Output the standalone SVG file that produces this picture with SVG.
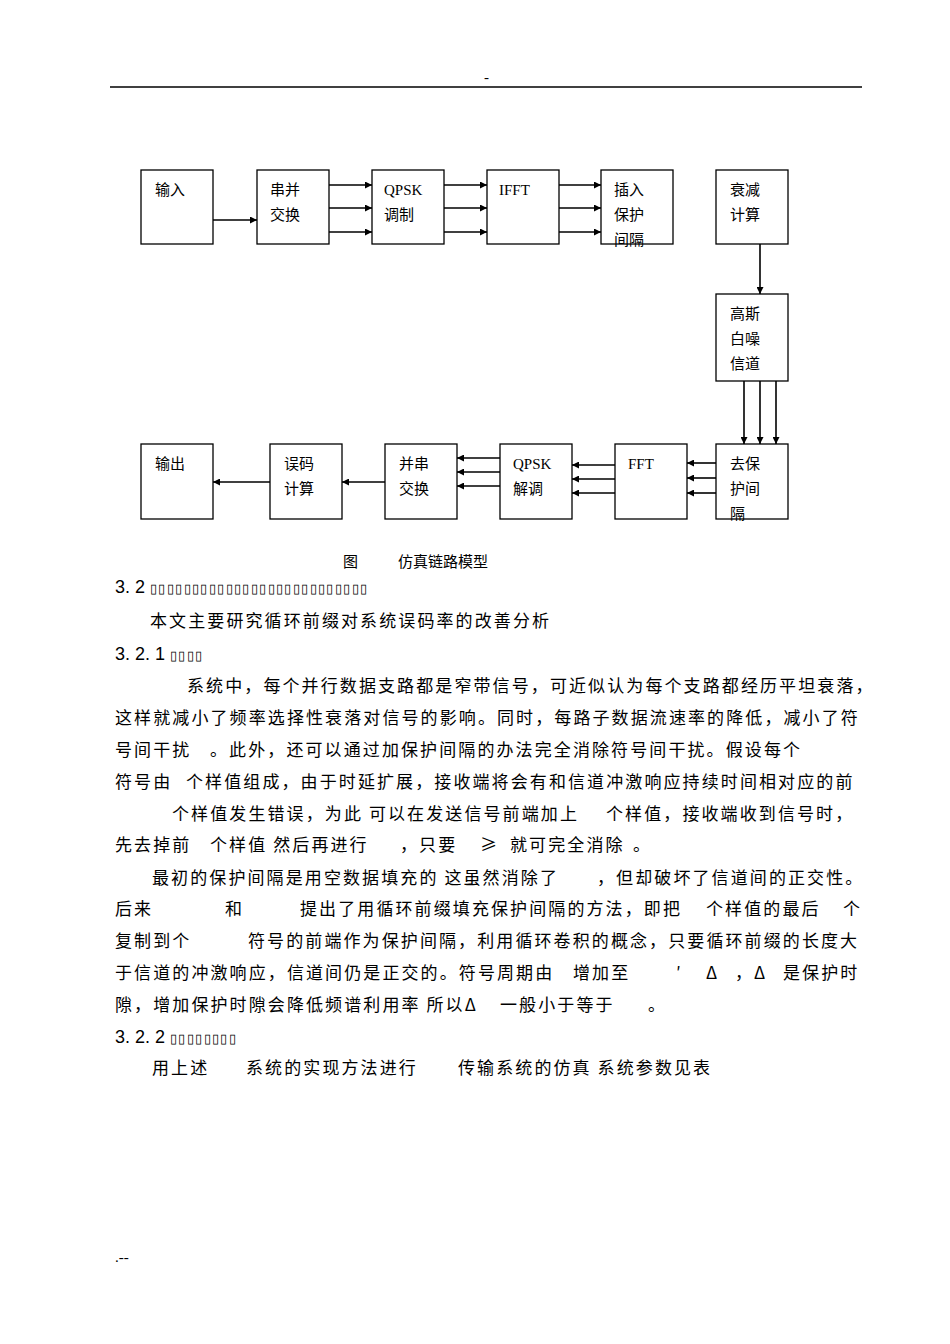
<svg xmlns="http://www.w3.org/2000/svg" width="950" height="1344" viewBox="0 0 950 1344">
<defs>
<style>
.b{fill:#fff;stroke:#000;stroke-width:1.3}
.l{stroke:#000;stroke-width:1.6;fill:none}
.t{font-family:"Liberation Serif","Noto Sans CJK SC",serif;font-size:15px;fill:#000}
.p{font-family:"Noto Sans CJK SC",sans-serif;font-size:17px;letter-spacing:2.1px;fill:#000}
.h{font-family:"Liberation Sans","Noto Sans CJK SC",sans-serif;font-size:18px;fill:#000}
.q{font-size:13px;letter-spacing:1.4px}
</style>
<marker id="a" viewBox="0 0 10 10" refX="10" refY="5" markerWidth="7" markerHeight="7" markerUnits="userSpaceOnUse" orient="auto"><path d="M0,0L10,5L0,10z"/></marker>
</defs>
<rect width="950" height="1344" fill="#fff"/>
<line x1="110" y1="87" x2="862" y2="87" stroke="#000" stroke-width="1.5"/>
<text x="484" y="82" class="t" font-size="10">-</text>
<g id="n1"><rect class="b" x="141" y="170" width="72" height="74"/><text class="t" x="155" y="195">输入</text></g>
<g id="n2"><rect class="b" x="257" y="170" width="72" height="74"/><text class="t" x="270" y="195">串并</text><text class="t" x="270" y="220">交换</text></g>
<g id="n3"><rect class="b" x="372" y="170" width="72" height="74"/><text class="t" x="384" y="195">QPSK</text><text class="t" x="384" y="220">调制</text></g>
<g id="n4"><rect class="b" x="487" y="170" width="72" height="74"/><text class="t" x="499" y="195">IFFT</text></g>
<g id="n5"><rect class="b" x="601" y="170" width="72" height="74"/><text class="t" x="614" y="195">插入</text><text class="t" x="614" y="220">保护</text><text class="t" x="614" y="245">间隔</text></g>
<g id="n6"><rect class="b" x="716" y="170" width="72" height="74"/><text class="t" x="730" y="195">衰减</text><text class="t" x="730" y="220">计算</text></g>
<g id="n7"><rect class="b" x="716" y="294" width="72" height="87"/><text class="t" x="730" y="319">高斯</text><text class="t" x="730" y="344">白噪</text><text class="t" x="730" y="369">信道</text></g>
<g id="n8"><rect class="b" x="716" y="444" width="72" height="75"/><text class="t" x="730" y="469">去保</text><text class="t" x="730" y="494">护间</text><text class="t" x="730" y="519">隔</text></g>
<g id="n9"><rect class="b" x="615" y="444" width="72" height="75"/><text class="t" x="628" y="469">FFT</text></g>
<g id="n10"><rect class="b" x="500" y="444" width="72" height="75"/><text class="t" x="513" y="469">QPSK</text><text class="t" x="513" y="494">解调</text></g>
<g id="n11"><rect class="b" x="385" y="444" width="72" height="75"/><text class="t" x="399" y="469">并串</text><text class="t" x="399" y="494">交换</text></g>
<g id="n12"><rect class="b" x="270" y="444" width="72" height="75"/><text class="t" x="284" y="469">误码</text><text class="t" x="284" y="494">计算</text></g>
<g id="n13"><rect class="b" x="141" y="444" width="72" height="75"/><text class="t" x="155" y="469">输出</text></g>
<g id="edges" class="l">
<path class="l" marker-end="url(#a)" d="M213,220H257"/>
<path class="l" marker-end="url(#a)" d="M329,185H372"/><path class="l" marker-end="url(#a)" d="M329,208H372"/><path class="l" marker-end="url(#a)" d="M329,232H372"/>
<path class="l" marker-end="url(#a)" d="M444,185H487"/><path class="l" marker-end="url(#a)" d="M444,208H487"/><path class="l" marker-end="url(#a)" d="M444,232H487"/>
<path class="l" marker-end="url(#a)" d="M559,185H601"/><path class="l" marker-end="url(#a)" d="M559,208H601"/><path class="l" marker-end="url(#a)" d="M559,232H601"/>
<path class="l" marker-end="url(#a)" d="M760,244V294"/>
<path class="l" marker-end="url(#a)" d="M744,381V444"/><path class="l" marker-end="url(#a)" d="M760,381V444"/><path class="l" marker-end="url(#a)" d="M776,381V444"/>
<path class="l" marker-end="url(#a)" d="M716,463H687"/><path class="l" marker-end="url(#a)" d="M716,478H687"/><path class="l" marker-end="url(#a)" d="M716,493H687"/>
<path class="l" marker-end="url(#a)" d="M615,465H572"/><path class="l" marker-end="url(#a)" d="M615,479H572"/><path class="l" marker-end="url(#a)" d="M615,493H572"/>
<path class="l" marker-end="url(#a)" d="M500,458H457"/><path class="l" marker-end="url(#a)" d="M500,472H457"/><path class="l" marker-end="url(#a)" d="M500,486H457"/>
<path class="l" marker-end="url(#a)" d="M385,482H342"/>
<path class="l" marker-end="url(#a)" d="M270,482H213"/>
</g>
<text class="t" x="343" y="567">图</text><text class="t" x="398" y="567">仿真链路模型</text>
<text class="h" x="115" y="593">3. 2 <tspan class="q">▯▯▯▯▯▯▯▯▯▯▯▯▯▯▯▯▯▯▯▯▯▯▯▯▯▯</tspan></text>
<text class="p" x="150" y="627">本文主要研究循环前缀对系统误码率的改善分析</text>
<text class="h" x="115" y="660" font-size="15">3. 2. 1 <tspan class="q">▯▯▯▯</tspan></text>
<text class="p" x="187" y="692">系统中，每个并行数据支路都是窄带信号，可近似认为每个支路都经历平坦衰落，</text>
<text class="p" x="115" y="724">这样就减小了频率选择性衰落对信号的影响。同时，每路子数据流速率的降低，减小了符</text>
<text class="p" x="115" y="756">号间干扰</text><text class="p" x="210" y="756">。此外，还可以通过加保护间隔的办法完全消除符号间干扰。假设每个</text>
<text class="p" x="115" y="788">符号由</text><text class="p" x="186" y="788">个样值组成，由于时延扩展，接收端将会有和信道冲激响应持续时间相对应的前</text>
<text class="p" x="172" y="820">个样值发生错误，为此 可以在发送信号前端加上</text><text class="p" x="606" y="820">个样值，接收端收到信号时，</text>
<text class="p" x="115" y="851">先去掉前</text><text class="p" x="210" y="851">个样值 然后再进行</text><text class="p" x="400" y="851">，只要</text><text class="p" x="480" y="851">≥</text><text class="p" x="510" y="851">就可完全消除</text><text class="p" x="633" y="851">。</text>
<text class="p" x="152" y="884">最初的保护间隔是用空数据填充的 这虽然消除了</text><text class="p" x="597" y="884">，但却破坏了信道间的正交性。</text>
<text class="p" x="115" y="915">后来</text><text class="p" x="225" y="915">和</text><text class="p" x="300" y="915">提出了用循环前缀填充保护间隔的方法，即把</text><text class="p" x="706" y="915">个样值的最后</text><text class="p" x="843" y="915">个</text>
<text class="p" x="115" y="947">复制到个</text><text class="p" x="248" y="947">符号的前端作为保护间隔，利用循环卷积的概念，只要循环前缀的长度大</text>
<text class="p" x="115" y="979">于信道的冲激响应，信道间仍是正交的。符号周期由</text><text class="p" x="573" y="979">增加至</text><text class="p" x="676" y="979">′</text><text class="p" x="706" y="979">Δ</text><text class="p" x="735" y="979">，Δ</text><text class="p" x="783" y="979">是保护时</text>
<text class="p" x="115" y="1011">隙，增加保护时隙会降低频谱利用率 所以Δ</text><text class="p" x="500" y="1011">一般小于等于</text><text class="p" x="648" y="1011">。</text>
<text class="h" x="115" y="1043" font-size="15">3. 2. 2 <tspan class="q">▯▯▯▯▯▯▯▯</tspan></text>
<text class="p" x="152" y="1074">用上述</text><text class="p" x="246" y="1074">系统的实现方法进行</text><text class="p" x="458" y="1074">传输系统的仿真 系统参数见表</text>
<text class="t" x="115" y="1262" font-size="11">.--</text>
</svg>
